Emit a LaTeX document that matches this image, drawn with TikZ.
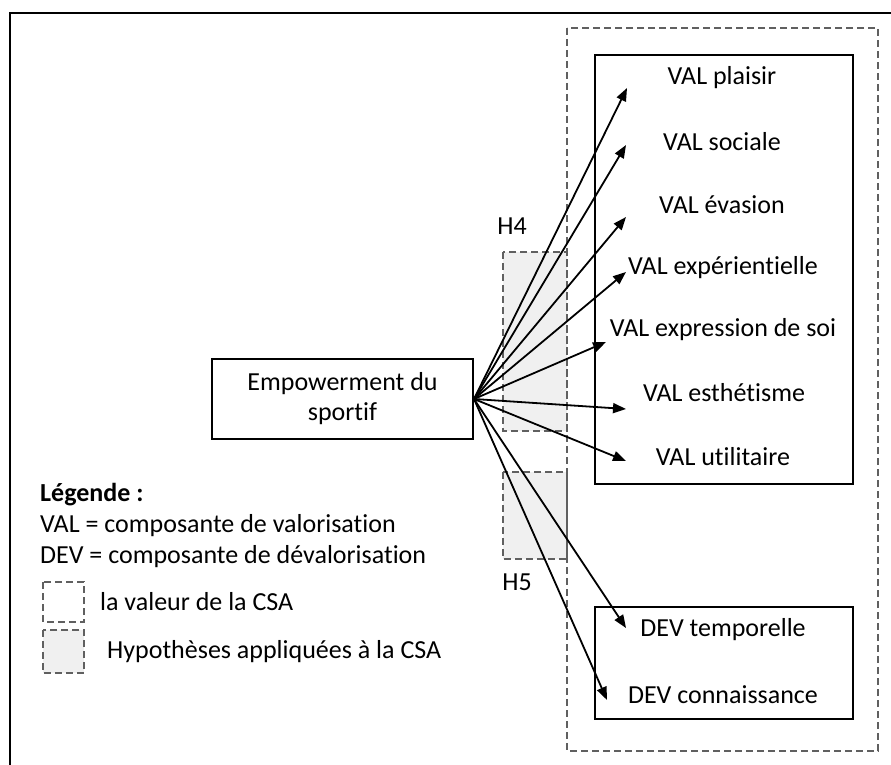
\documentclass[tikz,border=0pt]{standalone}
\usepackage{fontspec}
\setmainfont{Carlito}[Ligatures=NoCommon]
\usetikzlibrary{arrows.meta,positioning}
\definecolor{dashgray}{HTML}{606060}
\definecolor{hypfill}{HTML}{F0F0F0}

\begin{document}
\begin{tikzpicture}[x=1pt,y=-1pt,
    txt/.style={font=\fontsize{26}{30}\selectfont, inner sep=0pt},
    hyp/.style={draw=dashgray, dash pattern=on 7pt off 4pt, line width=2pt},
    box/.style={draw=black, line width=2pt},
    link/.style={line width=1.8pt, -{Triangle[length=13pt,width=10pt]}}]
  \useasboundingbox (0,0) rectangle (891,765);
  % cadre
  \draw[line width=2pt] (10,765) -- (10,13) -- (891,13);
  % hypotheses H4 / H5
  \draw[hyp, fill=hypfill] (503,252) rectangle (567,431);
  \draw[hyp, fill=hypfill] (503,472) rectangle (567,559);
  \node[txt] (h4) at (512,226) {H4};
  \node[txt] (h5) at (517,582) {H5};
  % valeur de la CSA
  \draw[hyp] (567,28) rectangle (878,751);
  \draw[box] (595,55) rectangle (853,484);
  \draw[box] (595,607) rectangle (853,719);
  % source
  \node[box, txt, align=center, minimum width=261pt, minimum height=80pt]
    (emp) at (342.5,399) {Empowerment du\\sportif};
  % composantes
  \node[txt] (plaisir) at (722,78) {VAL plaisir};
  \node[txt] (sociale) at (722,142) {VAL sociale};
  \node[txt] (evasion) at (722,205) {VAL évasion};
  \node[txt] (experience) at (723,268) {VAL expérientielle};
  \node[txt] (expression) at (723,330) {VAL expression de soi};
  \node[txt] (esthetisme) at (724,393) {VAL esthétisme};
  \node[txt] (utilitaire) at (723,457) {VAL utilitaire};
  \node[txt] (temporelle) at (723,630) {DEV temporelle};
  \node[txt] (connaissance) at (723,695) {DEV connaissance};
  % pointes des fleches
  \coordinate (t1) at (627,88);
  \coordinate (t2) at (626,145);
  \coordinate (t3) at (626,217);
  \coordinate (t4) at (626,272);
  \coordinate (t5) at (606,342);
  \coordinate (t6) at (626,409);
  \coordinate (t7) at (626,461);
  \coordinate (t8) at (626,628);
  \coordinate (t9) at (607,700);
  \foreach \t in {t1,t2,t3,t4,t5,t6,t7,t8,t9}
    \draw[link] (emp.east) -- (\t);
  % legende
  \node[txt, anchor=west] (legtitle) at (40,495) {\textbf{Légende :}};
  \node[txt, anchor=west] (legval) at (40,526) {VAL = composante de valorisation};
  \node[txt, anchor=west] (legdev) at (40,557) {DEV = composante de dévalorisation};
  \draw[hyp] (43,582) rectangle (84,622);
  \draw[hyp, fill=hypfill] (43,630) rectangle (84,673);
  \node[txt, anchor=west] (legcsa) at (100,602) {la valeur de la CSA};
  \node[txt, anchor=west] (leghyp) at (107,652) {Hypothèses appliquées à la CSA};
\end{tikzpicture}
\end{document}
